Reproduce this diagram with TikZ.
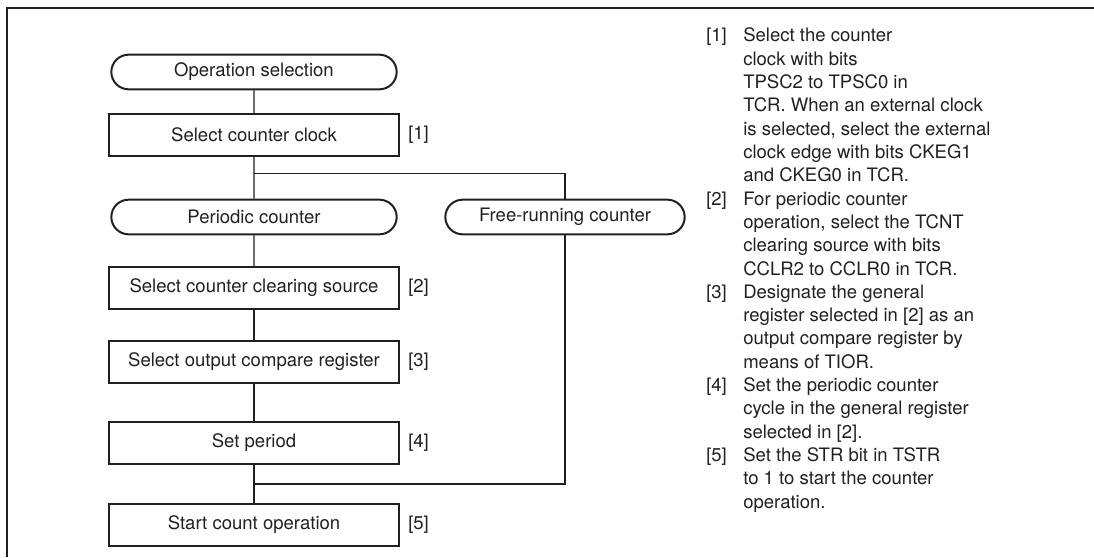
\documentclass[tikz,border=0pt]{standalone}
\usepackage{fontspec}
\setmainfont{TeX Gyre Heros}
\usetikzlibrary{shapes.misc, math}
\definecolor{inkgray}{RGB}{35,31,32}

\tikzset{
  term/.style={rounded rectangle, draw=inkgray, line width=1.5pt, minimum width=216pt, minimum height=26pt, inner sep=1pt},
  procbox/.style={rectangle, draw=inkgray, line width=1.5pt, minimum width=217.5pt, minimum height=31.5pt, inner sep=1pt},
  link/.style={draw=inkgray, line width=0.8pt},
  steptag/.style={anchor=west, inner sep=0pt},
  note/.style={anchor=base west, inner sep=0pt},
}

\begin{document}
\begin{tikzpicture}[x=0.75pt, y=-0.75pt, font=\fontsize{13.9}{17.5}\selectfont, text=inkgray]
\tikzmath{
\cx=254;
\dy=23.33;
\yo=41.7;
}
\useasboundingbox (0,0) rectangle (1094,557);

% frame
\draw[inkgray, line width=1.7pt] (7,557) -- (7,7.7) -- (1094,7.7);

% flow chart
\node[term] (opsel) at (\cx,72) {Operation selection};
\node[procbox] (clk) at (\cx,135) {Select counter clock};
\node[term] (perd) at (\cx,217) {Periodic counter};
\node[term, minimum width=181.5pt] (free) at (565,217) {Free-running counter};
\node[procbox] (clr) at (\cx,288) {Select counter clearing source};
\node[procbox] (ocr) at (\cx,361.5) {Select output compare register};
\node[procbox] (per) at (\cx,442.5) {Set period};
\node[procbox] (start) at (\cx,524.5) {Start count operation};

\node[steptag] (t1) at (408,135) {[1]};
\node[steptag] (t2) at (408,288) {[2]};
\node[steptag] (t3) at (408,361.5) {[3]};
\node[steptag] (t4) at (408,442.5) {[4]};
\node[steptag] (t5) at (408,524.5) {[5]};

\coordinate (split) at (\cx,173.5);
\coordinate (merge) at (\cx,484);

\draw[link] (opsel) -- (clk);
\draw[link] (clk) -- (perd);
\draw[link] (split) -| (free.north);
\draw[link] (perd) -- (clr);
\draw[link] (clr) -- (ocr);
\draw[link] (ocr) -- (per);
\draw[link] (per) -- (start);
\draw[link] (free.south) |- (merge);

% notes
\foreach \k/\n in {0/1, 7/2, 11/3, 15/4, 18/5}
  \node[note] (n\n) at (706,\yo+\k*\dy) {[\n]};
\foreach \txt [count=\i from 0] in {Select the counter, clock with bits, TPSC2 to TPSC0 in,
  TCR. When an external clock, {is selected, select the external}, clock edge with bits CKEG1,
  and CKEG0 in TCR., For periodic counter, {operation, select the TCNT}, clearing source with bits,
  CCLR2 to CCLR0 in TCR., Designate the general, register selected in [2] as an,
  output compare register by, means of TIOR., Set the periodic counter,
  cycle in the general register, selected in [2]., Set the STR bit in TSTR,
  to 1 to start the counter, operation.}
  \node[note] (line\i) at (743,\yo+\i*\dy) {\txt};

\end{tikzpicture}
\end{document}
